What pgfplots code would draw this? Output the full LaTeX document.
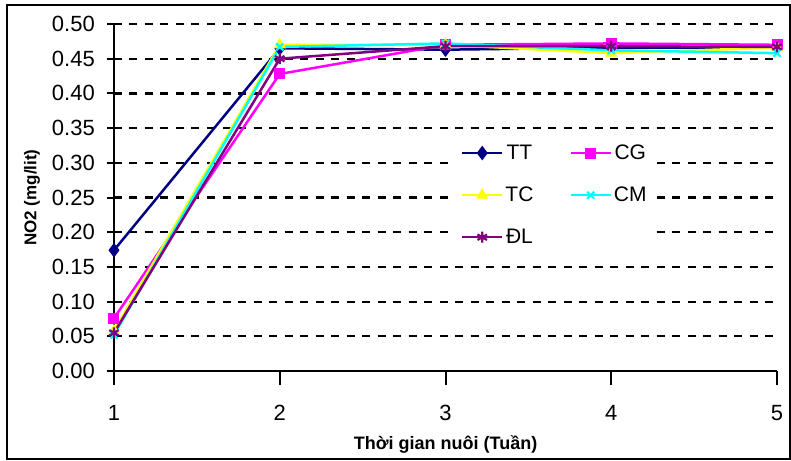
\documentclass[border=0pt]{standalone}
\usepackage{pgfplots}
\pgfplotsset{compat=1.18}
\usepackage{fontspec}
\setmainfont{Liberation Sans}
\definecolor{cTT}{HTML}{000080}
\definecolor{cCG}{HTML}{FF00FF}
\definecolor{cTC}{HTML}{FFFF00}
\definecolor{cCM}{HTML}{00FFFF}
\definecolor{cDL}{HTML}{800080}
\begin{document}
\begin{tikzpicture}
\begin{axis}[
  scale only axis,
  width=663bp, height=347bp,
  xmin=1, xmax=5, ymin=0, ymax=0.5,
  axis x line=bottom, axis y line=left,
  axis line style={line width=2.2bp, -},
  xtick={1,2,3,4,5},
  ytick={0,0.05,0.10,0.15,0.20,0.25,0.30,0.35,0.40,0.45,0.50},
  /pgf/number format/assume math mode=true,
  yticklabel={\pgfmathprintnumber[fixed,fixed zerofill,precision=2]{\tick}},
  xticklabel style={font=\fontsize{22bp}{26bp}\selectfont, anchor=north, inner sep=0pt, yshift=-20bp},
  yticklabel style={font=\fontsize{22bp}{26bp}\selectfont, anchor=east, inner sep=0pt, xshift=-12bp},
  x tick style={line width=2bp, black},
  y tick style={line width=2bp, black},
  xtick align=outside, ytick align=center,
  major tick length=14bp,
  ymajorgrids,
  major grid style={line width=2.2bp, black, dash pattern=on 8bp off 7.5bp},
  xlabel={\bfseries Thời gian nuôi (Tuần)},
  ylabel={\bfseries NO2 (mg/lit)},
  xlabel style={font=\fontsize{18bp}{21bp}\selectfont, at={(axis description cs:0.5,-0.2130)}, anchor=center},
  ylabel style={font=\fontsize{17bp}{20bp}\selectfont, at={(axis description cs:-0.1237,0.5)}, anchor=center, rotate=0},
  clip=false,
  legend columns=2,
  legend style={at={(axis description cs:0.514,0.675)}, anchor=north west, draw=none, fill=white,
    font=\fontsize{21bp}{25bp}\selectfont, row sep=22bp, inner sep=6bp,
    /tikz/every even column/.append style={column sep=34bp}},
  legend image code/.code={\draw[#1] (0bp,0bp) -- (40bp,0bp); \draw[#1, mark repeat=1] plot coordinates {(20bp,0bp)};},
  every axis plot/.append style={line width=2.5bp},
]
\addplot[cTT, mark=diamond*, mark size=6.5bp, mark options={solid, fill=cTT, line width=1bp}] coordinates {(1,0.174) (2,0.465) (3,0.463) (4,0.466) (5,0.466)};
\addlegendentry{TT}
\addplot[cCG, mark=square*, mark size=5bp, mark options={solid, fill=cCG, line width=1bp}] coordinates {(1,0.076) (2,0.428) (3,0.470) (4,0.472) (5,0.470)};
\addlegendentry{CG}
\addplot[cTC, mark=triangle*, mark size=6bp, mark options={solid, fill=cTC, line width=1bp}] coordinates {(1,0.058) (2,0.470) (3,0.470) (4,0.458) (5,0.466)};
\addlegendentry{TC}
\addplot[cCM, mark=x, mark size=5bp, mark options={solid, line width=2bp}] coordinates {(1,0.052) (2,0.467) (3,0.472) (4,0.462) (5,0.458)};
\addlegendentry{CM}
\addplot[cDL, mark=asterisk, mark size=5.5bp, mark options={solid, line width=2.2bp}] coordinates {(1,0.055) (2,0.450) (3,0.468) (4,0.468) (5,0.467)};
\addlegendentry{ĐL}
\coordinate (SW) at (rel axis cs:0,0);
\coordinate (NE) at (rel axis cs:1,1);
\end{axis}
\useasboundingbox ([shift={(-114bp,-90bp)}]SW) rectangle ([shift={(14bp,24bp)}]NE);
\draw[line width=2bp] ([shift={(-107bp,-88bp)}]SW) rectangle ([shift={(13bp,19bp)}]NE);
\end{tikzpicture}
\end{document}
